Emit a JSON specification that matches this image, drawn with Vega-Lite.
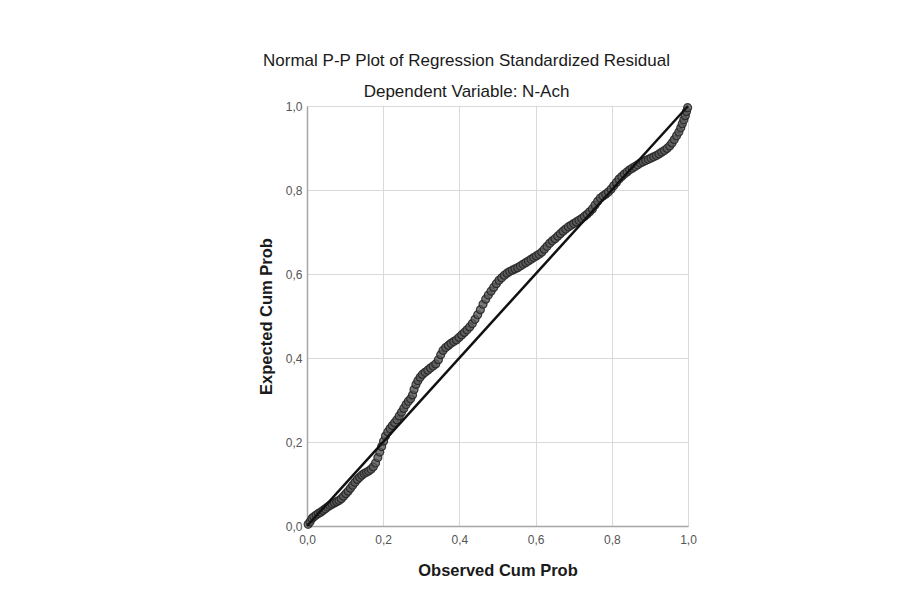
{
  "$schema": "https://vega.github.io/schema/vega-lite/v6.json",
  "autosize": {"type": "none"},
  "width": 381,
  "height": 420,
  "padding": {"left": 307, "top": 106, "right": 229, "bottom": 87},
  "background": "white",
  "title": {
    "text": "Normal P-P Plot of Regression Standardized Residual",
    "subtitle": "Dependent Variable: N-Ach",
    "anchor": "middle",
    "frame": "group",
    "dx": -31,
    "offset": -1,
    "font": "Liberation Sans",
    "fontSize": 17,
    "fontWeight": "normal",
    "color": "#1a1a1a",
    "subtitleFont": "Liberation Sans",
    "subtitleFontSize": 17,
    "subtitleColor": "#1a1a1a",
    "subtitlePadding": 14
  },
  "config": {
    "view": {"stroke": null},
    "axis": {
      "labelFont": "Liberation Sans",
      "labelFontSize": 12,
      "labelColor": "#555555",
      "titleFont": "Liberation Sans",
      "titleFontSize": 16.5,
      "titleFontWeight": "bold",
      "titleColor": "#1a1a1a",
      "gridColor": "#d9d9d9",
      "gridWidth": 1,
      "domainColor": "#a6a6a6",
      "domainWidth": 1.5,
      "ticks": false
    }
  },
  "datasets": {
    "pts": [
      {"obs": 0.003, "exp": 0.004}, {"obs": 0.008, "exp": 0.010}, {"obs": 0.013, "exp": 0.018}, {"obs": 0.018, "exp": 0.022},
      {"obs": 0.024, "exp": 0.026}, {"obs": 0.030, "exp": 0.030}, {"obs": 0.036, "exp": 0.033}, {"obs": 0.042, "exp": 0.037},
      {"obs": 0.048, "exp": 0.041}, {"obs": 0.054, "exp": 0.045}, {"obs": 0.060, "exp": 0.049}, {"obs": 0.066, "exp": 0.052},
      {"obs": 0.072, "exp": 0.055}, {"obs": 0.078, "exp": 0.058}, {"obs": 0.084, "exp": 0.061}, {"obs": 0.090, "exp": 0.065},
      {"obs": 0.096, "exp": 0.071}, {"obs": 0.102, "exp": 0.077}, {"obs": 0.108, "exp": 0.083}, {"obs": 0.114, "exp": 0.090},
      {"obs": 0.120, "exp": 0.097}, {"obs": 0.126, "exp": 0.104}, {"obs": 0.132, "exp": 0.111}, {"obs": 0.138, "exp": 0.116},
      {"obs": 0.144, "exp": 0.121}, {"obs": 0.150, "exp": 0.125}, {"obs": 0.156, "exp": 0.128}, {"obs": 0.162, "exp": 0.131},
      {"obs": 0.168, "exp": 0.135}, {"obs": 0.174, "exp": 0.141}, {"obs": 0.180, "exp": 0.150}, {"obs": 0.186, "exp": 0.163},
      {"obs": 0.191, "exp": 0.176}, {"obs": 0.196, "exp": 0.189}, {"obs": 0.201, "exp": 0.202}, {"obs": 0.206, "exp": 0.214},
      {"obs": 0.212, "exp": 0.224}, {"obs": 0.218, "exp": 0.232}, {"obs": 0.224, "exp": 0.239}, {"obs": 0.230, "exp": 0.246},
      {"obs": 0.236, "exp": 0.253}, {"obs": 0.242, "exp": 0.262}, {"obs": 0.248, "exp": 0.271}, {"obs": 0.254, "exp": 0.280},
      {"obs": 0.260, "exp": 0.289}, {"obs": 0.266, "exp": 0.297}, {"obs": 0.272, "exp": 0.303}, {"obs": 0.277, "exp": 0.312},
      {"obs": 0.281, "exp": 0.325}, {"obs": 0.286, "exp": 0.337}, {"obs": 0.291, "exp": 0.346}, {"obs": 0.297, "exp": 0.354},
      {"obs": 0.303, "exp": 0.361}, {"obs": 0.310, "exp": 0.366}, {"obs": 0.317, "exp": 0.371}, {"obs": 0.324, "exp": 0.376},
      {"obs": 0.331, "exp": 0.381}, {"obs": 0.338, "exp": 0.386}, {"obs": 0.345, "exp": 0.396}, {"obs": 0.351, "exp": 0.408},
      {"obs": 0.357, "exp": 0.418}, {"obs": 0.364, "exp": 0.425}, {"obs": 0.371, "exp": 0.430}, {"obs": 0.378, "exp": 0.435},
      {"obs": 0.385, "exp": 0.439}, {"obs": 0.392, "exp": 0.443}, {"obs": 0.399, "exp": 0.449}, {"obs": 0.406, "exp": 0.455},
      {"obs": 0.413, "exp": 0.461}, {"obs": 0.420, "exp": 0.467}, {"obs": 0.427, "exp": 0.474}, {"obs": 0.434, "exp": 0.482},
      {"obs": 0.441, "exp": 0.492}, {"obs": 0.448, "exp": 0.503}, {"obs": 0.455, "exp": 0.515}, {"obs": 0.462, "exp": 0.528},
      {"obs": 0.469, "exp": 0.540}, {"obs": 0.476, "exp": 0.550}, {"obs": 0.483, "exp": 0.559}, {"obs": 0.490, "exp": 0.568},
      {"obs": 0.497, "exp": 0.577}, {"obs": 0.504, "exp": 0.585}, {"obs": 0.511, "exp": 0.591}, {"obs": 0.518, "exp": 0.597},
      {"obs": 0.525, "exp": 0.602}, {"obs": 0.532, "exp": 0.606}, {"obs": 0.539, "exp": 0.609}, {"obs": 0.546, "exp": 0.612},
      {"obs": 0.553, "exp": 0.615}, {"obs": 0.560, "exp": 0.619}, {"obs": 0.567, "exp": 0.623}, {"obs": 0.574, "exp": 0.627},
      {"obs": 0.581, "exp": 0.631}, {"obs": 0.588, "exp": 0.635}, {"obs": 0.595, "exp": 0.639}, {"obs": 0.602, "exp": 0.643},
      {"obs": 0.609, "exp": 0.647}, {"obs": 0.616, "exp": 0.652}, {"obs": 0.623, "exp": 0.659}, {"obs": 0.630, "exp": 0.666},
      {"obs": 0.637, "exp": 0.673}, {"obs": 0.644, "exp": 0.679}, {"obs": 0.651, "exp": 0.684}, {"obs": 0.658, "exp": 0.690},
      {"obs": 0.665, "exp": 0.696}, {"obs": 0.672, "exp": 0.702}, {"obs": 0.679, "exp": 0.707}, {"obs": 0.686, "exp": 0.712},
      {"obs": 0.693, "exp": 0.716}, {"obs": 0.700, "exp": 0.720}, {"obs": 0.707, "exp": 0.724}, {"obs": 0.714, "exp": 0.728},
      {"obs": 0.721, "exp": 0.732}, {"obs": 0.728, "exp": 0.737}, {"obs": 0.735, "exp": 0.742}, {"obs": 0.742, "exp": 0.748},
      {"obs": 0.749, "exp": 0.755}, {"obs": 0.756, "exp": 0.764}, {"obs": 0.763, "exp": 0.773}, {"obs": 0.770, "exp": 0.781},
      {"obs": 0.777, "exp": 0.786}, {"obs": 0.784, "exp": 0.790}, {"obs": 0.791, "exp": 0.795}, {"obs": 0.798, "exp": 0.802},
      {"obs": 0.805, "exp": 0.810}, {"obs": 0.812, "exp": 0.818}, {"obs": 0.819, "exp": 0.826}, {"obs": 0.826, "exp": 0.832},
      {"obs": 0.833, "exp": 0.838}, {"obs": 0.840, "exp": 0.843}, {"obs": 0.847, "exp": 0.848}, {"obs": 0.854, "exp": 0.852},
      {"obs": 0.861, "exp": 0.856}, {"obs": 0.868, "exp": 0.860}, {"obs": 0.875, "exp": 0.864}, {"obs": 0.882, "exp": 0.867},
      {"obs": 0.889, "exp": 0.870}, {"obs": 0.896, "exp": 0.873}, {"obs": 0.903, "exp": 0.876}, {"obs": 0.910, "exp": 0.879},
      {"obs": 0.917, "exp": 0.882}, {"obs": 0.924, "exp": 0.886}, {"obs": 0.931, "exp": 0.890}, {"obs": 0.938, "exp": 0.894},
      {"obs": 0.945, "exp": 0.899}, {"obs": 0.952, "exp": 0.905}, {"obs": 0.958, "exp": 0.912}, {"obs": 0.964, "exp": 0.920},
      {"obs": 0.970, "exp": 0.929}, {"obs": 0.976, "exp": 0.938}, {"obs": 0.981, "exp": 0.948}, {"obs": 0.985, "exp": 0.958},
      {"obs": 0.989, "exp": 0.967}, {"obs": 0.993, "exp": 0.977}, {"obs": 0.996, "exp": 0.987}, {"obs": 0.999, "exp": 0.996}
    ],
    "ref": [{"obs": 0, "exp": 0}, {"obs": 1, "exp": 1}]
  },
  "layer": [
    {
      "data": {"name": "pts"},
      "mark": {"type": "point", "shape": "circle", "filled": true, "size": 64, "fill": "#5a5a5a", "stroke": "#222222", "strokeWidth": 1.2, "fillOpacity": 0.8, "strokeOpacity": 0.85},
      "encoding": {
        "x": {"field": "obs", "type": "quantitative", "scale": {"domain": [0, 1], "nice": false, "zero": false},
          "axis": {"title": "Observed Cum Prob", "values": [0, 0.2, 0.4, 0.6, 0.8, 1], "labelExpr": "replace(format(datum.value, '.1f'), '.', ',')", "labelPadding": 8, "titlePadding": 17, "labelFlush": false}},
        "y": {"field": "exp", "type": "quantitative", "scale": {"domain": [0, 1], "nice": false, "zero": false},
          "axis": {"title": "Expected Cum Prob", "values": [0, 0.2, 0.4, 0.6, 0.8, 1], "labelExpr": "replace(format(datum.value, '.1f'), '.', ',')", "labelPadding": 5, "titlePadding": 11, "labelFlush": false}}
      }
    },
    {
      "data": {"name": "ref"},
      "mark": {"type": "line", "color": "#111111", "strokeWidth": 2.5},
      "encoding": {
        "x": {"field": "obs", "type": "quantitative"},
        "y": {"field": "exp", "type": "quantitative"}
      }
    }
  ]
}
